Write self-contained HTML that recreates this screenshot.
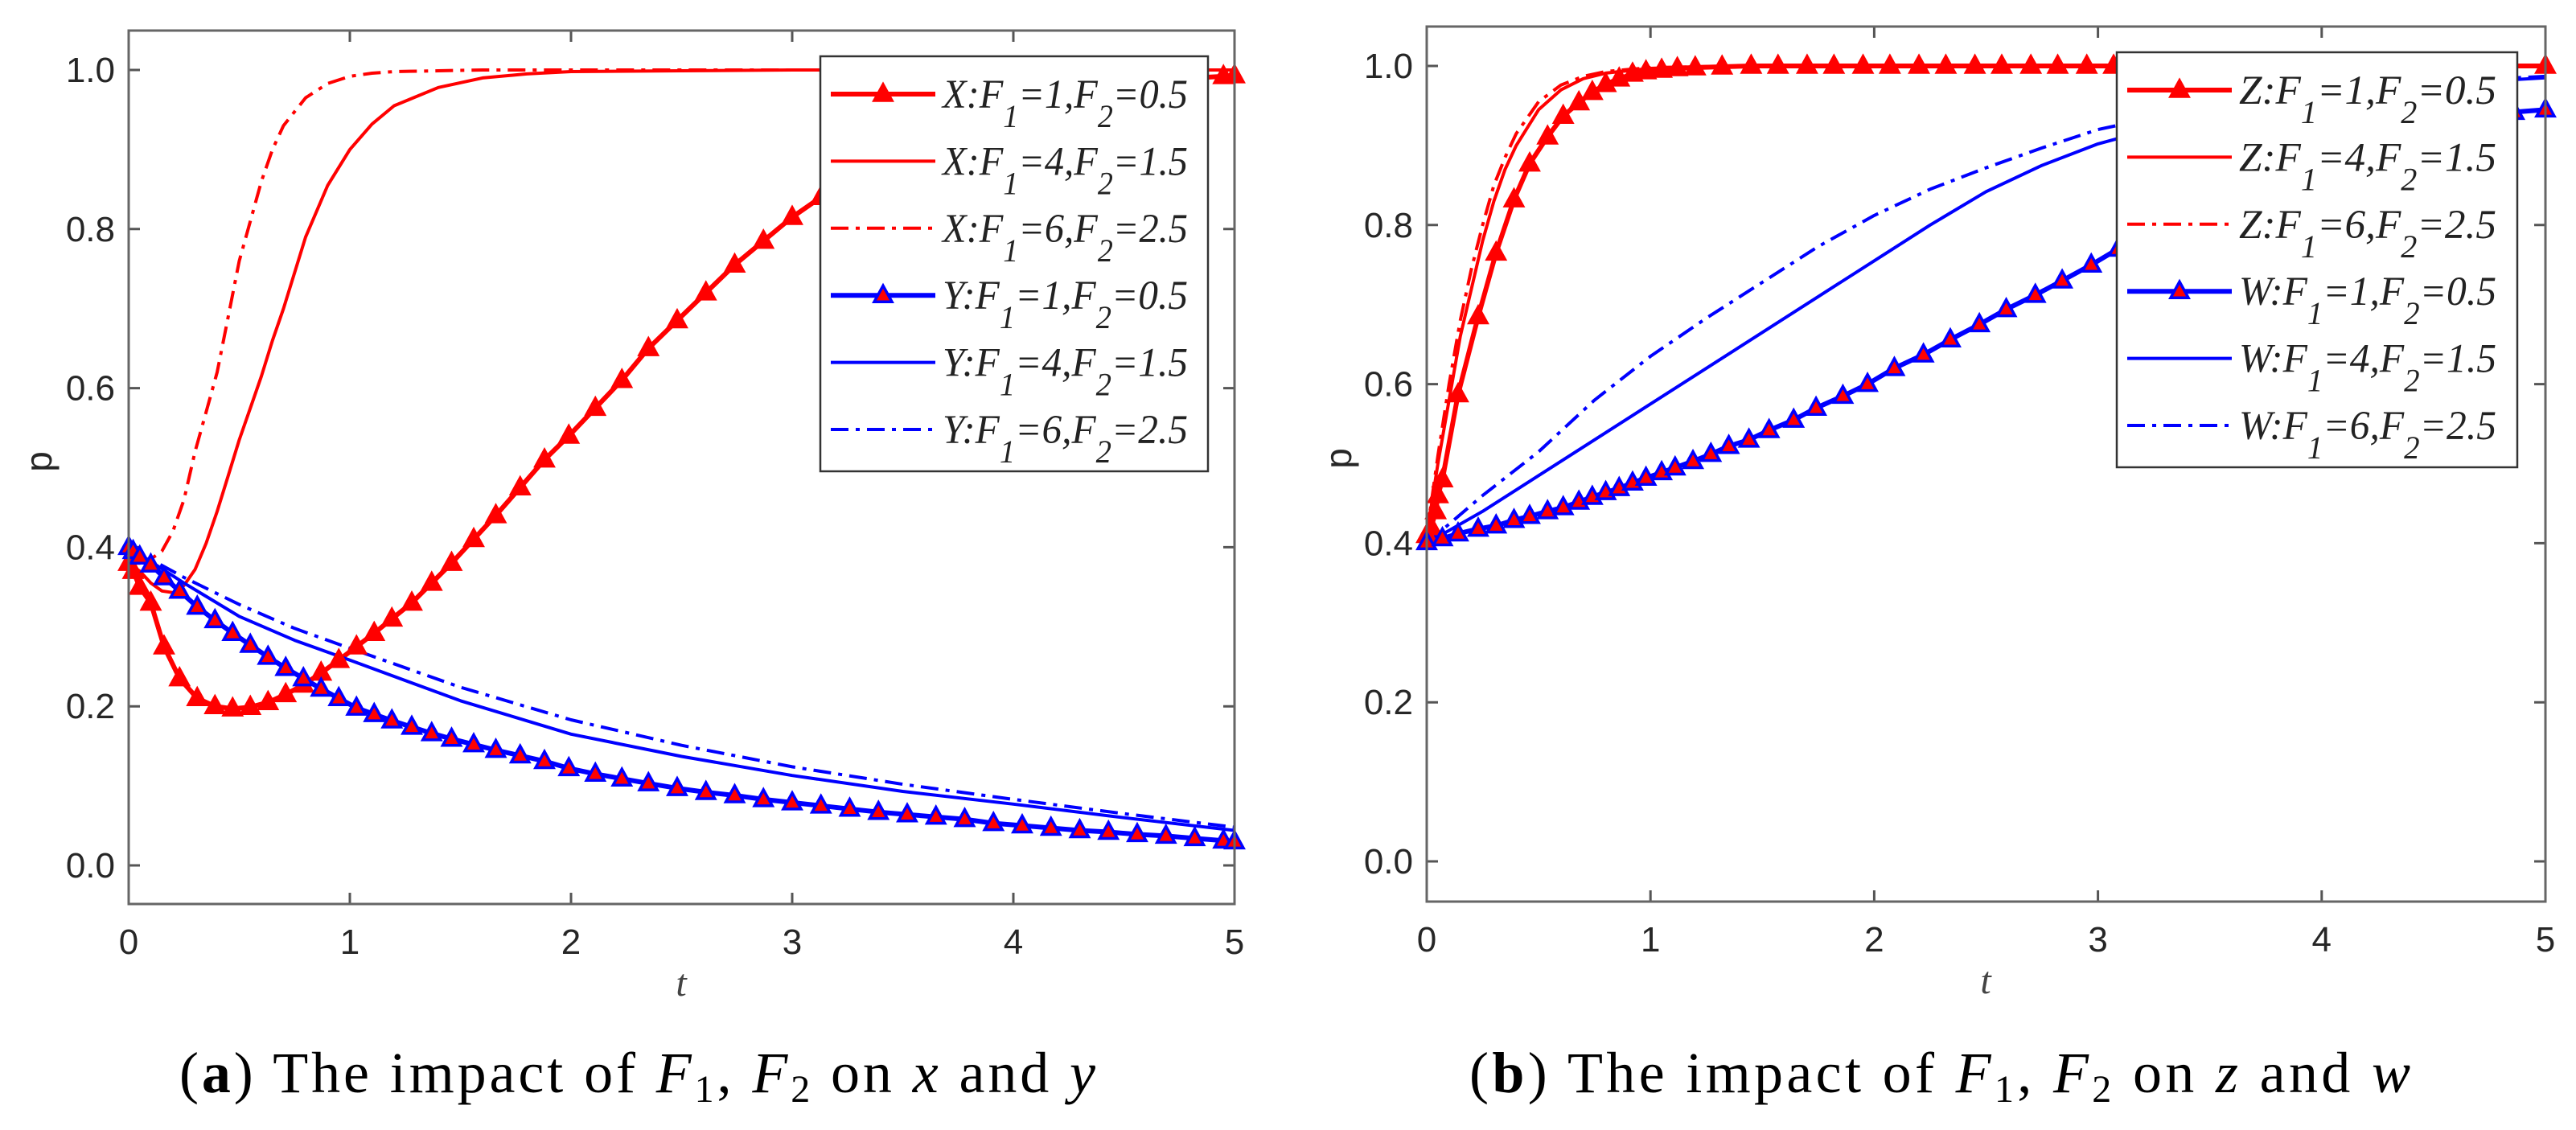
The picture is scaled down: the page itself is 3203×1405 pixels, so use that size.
<!DOCTYPE html>
<html><head><meta charset="utf-8"><style>
html,body{margin:0;padding:0;background:#fff;}
svg{display:block;}
</style></head><body>
<svg id="fig" width="3203" height="1405" viewBox="0 0 3203 1405" xmlns="http://www.w3.org/2000/svg"></svg>
<script>
// ---------- Data: panel (a) ----------
const tMarkA = [0,0.02,0.05,0.1,0.16,0.23,0.31,0.39,0.47,0.55,0.63,0.71,0.79,0.87,0.95,1.03,1.11,1.19,1.28,1.37,1.46,1.56,1.66,1.77,1.88,1.99,2.11,2.23,2.35,2.48,2.61,2.74,2.87,3.0,3.13,3.26,3.39,3.52,3.65,3.78,3.91,4.04,4.17,4.3,4.43,4.56,4.69,4.82,4.95,5.0];
const x1Vals = [0.38,0.37,0.35,0.33,0.275,0.235,0.21,0.2,0.197,0.199,0.205,0.215,0.227,0.242,0.258,0.275,0.292,0.31,0.33,0.355,0.38,0.41,0.44,0.475,0.51,0.54,0.575,0.61,0.65,0.685,0.72,0.755,0.785,0.815,0.84,0.865,0.885,0.905,0.92,0.935,0.948,0.958,0.966,0.973,0.978,0.983,0.987,0.99,0.992,0.993];
const y1Vals = [0.4,0.395,0.388,0.378,0.362,0.345,0.325,0.308,0.292,0.277,0.262,0.248,0.235,0.222,0.21,0.198,0.19,0.182,0.174,0.166,0.159,0.152,0.145,0.138,0.131,0.122,0.115,0.109,0.103,0.097,0.092,0.088,0.083,0.079,0.075,0.071,0.067,0.064,0.061,0.058,0.053,0.05,0.047,0.044,0.042,0.039,0.037,0.034,0.031,0.03];
const tXA = [0,0.05,0.1,0.15,0.2,0.25,0.3,0.35,0.4,0.45,0.5,0.55,0.6,0.65,0.7,0.8,0.9,1,1.1,1.2,1.4,1.6,1.8,2,2.5,3,4,5];
const x2Vals = [0.38,0.37,0.355,0.345,0.343,0.352,0.372,0.405,0.445,0.49,0.535,0.575,0.615,0.66,0.7,0.79,0.855,0.9,0.932,0.955,0.978,0.99,0.995,0.998,0.999,1,1,1];
const x3Vals = [0.38,0.38,0.385,0.395,0.42,0.46,0.52,0.57,0.62,0.69,0.76,0.81,0.86,0.9,0.93,0.965,0.983,0.992,0.996,0.998,0.999,1,1,1,1,1,1,1];
const tYA = [0,0.25,0.5,0.75,1,1.5,2,2.5,3,3.5,4,4.5,5];
const y2Vals = [0.4,0.355,0.313,0.283,0.258,0.207,0.165,0.137,0.113,0.093,0.077,0.06,0.044];
const y3Vals = [0.4,0.362,0.328,0.298,0.273,0.224,0.183,0.151,0.124,0.102,0.083,0.065,0.048];
// ---------- Data: panel (b) ----------
const tZ1 = [0,0.02,0.04,0.05,0.07,0.14,0.23,0.31,0.39,0.46,0.54,0.61,0.68,0.74,0.8,0.86,0.92,0.98,1.05,1.12,1.2,1.32,1.45,1.57,1.7,1.82,1.95,2.07,2.2,2.32,2.45,2.57,2.7,2.82,2.95,3.07,3.2,3.32,3.45,3.57,3.7,3.82,3.95,4.07,4.2,4.32,4.45,4.57,4.7,4.82,5.0];
const z1Vals = [0.41,0.42,0.44,0.46,0.48,0.587,0.685,0.765,0.832,0.877,0.911,0.937,0.954,0.967,0.977,0.984,0.99,0.993,0.995,0.997,0.998,0.999,1,1,1,1,1,1,1,1,1,1,1,1,1,1,1,1,1,1,1,1,1,1,1,1,1,1,1,1,1];
const tZ = [0,0.05,0.1,0.15,0.2,0.25,0.3,0.35,0.4,0.5,0.6,0.7,0.8,1,1.2,1.5,2,5];
const z2Vals = [0.41,0.5,0.58,0.66,0.72,0.78,0.83,0.87,0.9,0.945,0.97,0.984,0.991,0.997,0.999,1,1,1];
const z3Vals = [0.41,0.51,0.6,0.68,0.745,0.8,0.85,0.885,0.915,0.955,0.976,0.987,0.993,0.998,0.999,1,1,1];
const tW1 = [0,0.07,0.14,0.23,0.31,0.39,0.46,0.54,0.61,0.68,0.74,0.8,0.86,0.92,0.98,1.05,1.11,1.19,1.27,1.35,1.44,1.53,1.64,1.74,1.86,1.97,2.09,2.22,2.34,2.47,2.59,2.72,2.84,2.97,3.09,3.22,3.34,3.47,3.59,3.72,3.84,3.97,4.09,4.22,4.34,4.47,4.59,4.72,4.86,5.0];
const w1Vals = [0.401,0.406,0.412,0.418,0.422,0.429,0.434,0.44,0.445,0.452,0.458,0.464,0.469,0.476,0.482,0.489,0.495,0.503,0.512,0.522,0.53,0.542,0.555,0.57,0.585,0.6,0.62,0.637,0.656,0.675,0.694,0.712,0.73,0.75,0.77,0.79,0.81,0.83,0.848,0.865,0.88,0.893,0.905,0.915,0.923,0.93,0.935,0.939,0.942,0.945];
const tW = [0,0.25,0.5,0.75,1,1.25,1.5,1.75,2,2.25,2.5,2.75,3,3.5,4,4.5,5];
const w2Vals = [0.4,0.44,0.485,0.53,0.575,0.62,0.665,0.71,0.755,0.80,0.842,0.875,0.902,0.94,0.963,0.977,0.985];
const w3Vals = [0.4,0.46,0.515,0.58,0.635,0.683,0.728,0.773,0.812,0.845,0.872,0.897,0.92,0.95,0.97,0.98,0.987];
const xTicks = [0,1,2,3,4,5];
const yTicks = [0,0.2,0.4,0.6,0.8,1.0];
const yTickLabels = ["0.0","0.2","0.4","0.6","0.8","1.0"];
const legendA = [["X","1","0.5"],["X","4","1.5"],["X","6","2.5"],["Y","1","0.5"],["Y","4","1.5"],["Y","6","2.5"]];
const legendB = [["Z","1","0.5"],["Z","4","1.5"],["Z","6","2.5"],["W","1","0.5"],["W","4","1.5"],["W","6","2.5"]];

const NS = "http://www.w3.org/2000/svg";
const svg = document.getElementById('fig');
function mk(tag, attrs, parent){ const e=document.createElementNS(NS,tag); for(const k in attrs) e.setAttribute(k,attrs[k]); (parent||svg).appendChild(e); return e; }

const RED="#ff0000", BLUE="#0000ff", DASHDOT="22 9 5 9";

function panel(P){
  const g = mk('g',{});
  
  
  const sx = t => P.x0 + (P.x1-P.x0)*t/5;
  const sy = p => P.py0 - (P.py0-P.py1)*p;
  const clipId = P.name+'-clip';
  const cp = mk('clipPath',{id:clipId},g);
  mk('rect',{x:P.x0,y:P.yT,width:P.x1-P.x0,height:P.yB-P.yT},cp);
  xTicks.forEach(t=>{
    const x=sx(t);
    const tk=mk('path',{d:`M${x},${P.yB}v-14M${x},${P.yT}v14`,stroke:'#555','stroke-width':3},g);
    
    
    const lb=mk('text',{x:x,y:P.yB+62,'text-anchor':'middle','font-size':44,fill:'#262626','font-family':'Liberation Sans, sans-serif'},g);
    lb.textContent=String(t);
    
    
  });
  yTicks.forEach((p,i)=>{
    const y=sy(p);
    const tk=mk('path',{d:`M${P.x0},${y}h14M${P.x1},${y}h-14`,stroke:'#555','stroke-width':3},g);
    
    
    const lb=mk('text',{x:P.x0-17,y:y+15,'text-anchor':'end','font-size':44,fill:'#262626','font-family':'Liberation Sans, sans-serif'},g);
    lb.textContent=yTickLabels[i];
    
    
  });
  const plot = mk('g',{'clip-path':`url(#${clipId})`},g);
  P.series.forEach(s=>{
    const d = s.t.map((t,i)=>(i?'L':'M')+sx(t).toFixed(1)+','+sy(s.v[i]).toFixed(1)).join('');
    const ln = mk('path',{d:d,fill:'none',stroke:s.color,'stroke-width':s.marker?6:4,'stroke-dasharray':s.dash||'none','stroke-linejoin':'round'},plot);
    
    
    if(s.marker){
      s.t.forEach((t,i)=>{
        const x=sx(t), y=sy(s.v[i]);
        const m=mk('path',{d:`M${x},${y-12}L${x+11},${y+8}L${x-11},${y+8}Z`,fill:RED,stroke:s.color,'stroke-width':3.5},g);
        
        
      });
    }
  });
  const box = mk('rect',{x:P.x0,y:P.yT,width:P.x1-P.x0,height:P.yB-P.yT,fill:'none',stroke:'#666','stroke-width':3},g);
  
  
  const xt = mk('text',{x:P.xtX,y:P.xtY,'text-anchor':'middle','font-size':48,'font-style':'italic',fill:'#444','font-family':'Liberation Serif, serif'},g);
  xt.textContent='t';
  
  
  const yt = mk('text',{x:0,y:0,'text-anchor':'middle','font-size':46,fill:'#262626','font-family':'Liberation Sans, sans-serif',transform:`translate(${P.ytX},${P.ytY}) rotate(-90)`},g);
  yt.textContent='p';
  
  
  const L = P.leg;
  const lg = mk('g',{},g);
  
  
  mk('rect',{x:L.x,y:L.y,width:L.w,height:L.h,fill:'#fff',stroke:'#333','stroke-width':2.5},lg);
  P.labels.forEach((lab,i)=>{
    const s=P.series[i];
    const cy=L.y0+i*83.4;
    const ent=mk('g',{},lg);
    
    
    mk('line',{x1:L.x+13,x2:L.x+143,y1:cy,y2:cy,stroke:s.color,'stroke-width':s.marker?6:4,'stroke-dasharray':s.dash||'none'},ent);
    if(s.marker){ const mx=L.x+78; mk('path',{d:`M${mx},${cy-12}L${mx+11},${cy+8}L${mx-11},${cy+8}Z`,fill:RED,stroke:s.color,'stroke-width':3.5},ent); }
    const tx=mk('text',{x:L.x+152,y:cy+17,'font-size':51,'font-style':'italic',fill:'#222','font-family':'Liberation Serif, serif',textLength:L.tl,lengthAdjust:'spacingAndGlyphs'},ent);
    tx.innerHTML=`${lab[0]}:F<tspan dy="24" font-size="40">1</tspan><tspan dy="-24">=${lab[1]},F</tspan><tspan dy="24" font-size="40">2</tspan><tspan dy="-24">=${lab[2]}</tspan>`;
  });
  const cap = mk('text',{x:P.capX,y:1358,'font-size':72,fill:'#000','font-family':'Liberation Serif, serif',textLength:P.capW,lengthAdjust:'spacing','xml:space':'preserve'},g);
  cap.innerHTML=`(<tspan font-weight="bold">${P.capL}</tspan>) The impact of  <tspan font-style="italic">F</tspan><tspan font-size="48" dy="12">1</tspan><tspan dy="-12">, </tspan><tspan font-style="italic">F</tspan><tspan font-size="48" dy="12">2</tspan><tspan dy="-12">  on  </tspan><tspan font-style="italic">${P.capV1}</tspan>  and  <tspan font-style="italic">${P.capV2}</tspan>`;
  
  
}

panel({name:'panel-a',x0:160,x1:1535,yT:38,yB:1124,py0:1076,py1:87,xtX:847,xtY:1238,ytX:64,ytY:574,
  leg:{x:1020,y:70,w:482,h:516,y0:117,tl:305},labels:legendA,capX:223,capW:1139,capL:'a',capV1:'x',capV2:'y',
  series:[
    {name:'x-f1-1',t:tMarkA,v:x1Vals,color:RED,marker:true},
    {name:'x-f1-4',t:tXA,v:x2Vals,color:RED},
    {name:'x-f1-6',t:tXA,v:x3Vals,color:RED,dash:DASHDOT},
    {name:'y-f1-1',t:tMarkA,v:y1Vals,color:BLUE,marker:true},
    {name:'y-f1-4',t:tYA,v:y2Vals,color:BLUE},
    {name:'y-f1-6',t:tYA,v:y3Vals,color:BLUE,dash:DASHDOT}
  ]});
panel({name:'panel-b',x0:1774,x1:3165,yT:33,yB:1121,py0:1071,py1:82,xtX:2469,xtY:1235,ytX:1680,ytY:570,
  leg:{x:2632,y:65,w:498,h:516,y0:112,tl:320},labels:legendB,capX:1827,capW:1170,capL:'b',capV1:'z',capV2:'w',
  series:[
    {name:'z-f1-1',t:tZ1,v:z1Vals,color:RED,marker:true},
    {name:'z-f1-4',t:tZ,v:z2Vals,color:RED},
    {name:'z-f1-6',t:tZ,v:z3Vals,color:RED,dash:DASHDOT},
    {name:'w-f1-1',t:tW1,v:w1Vals,color:BLUE,marker:true},
    {name:'w-f1-4',t:tW,v:w2Vals,color:BLUE},
    {name:'w-f1-6',t:tW,v:w3Vals,color:BLUE,dash:DASHDOT}
  ]});
</script>
</body></html>
